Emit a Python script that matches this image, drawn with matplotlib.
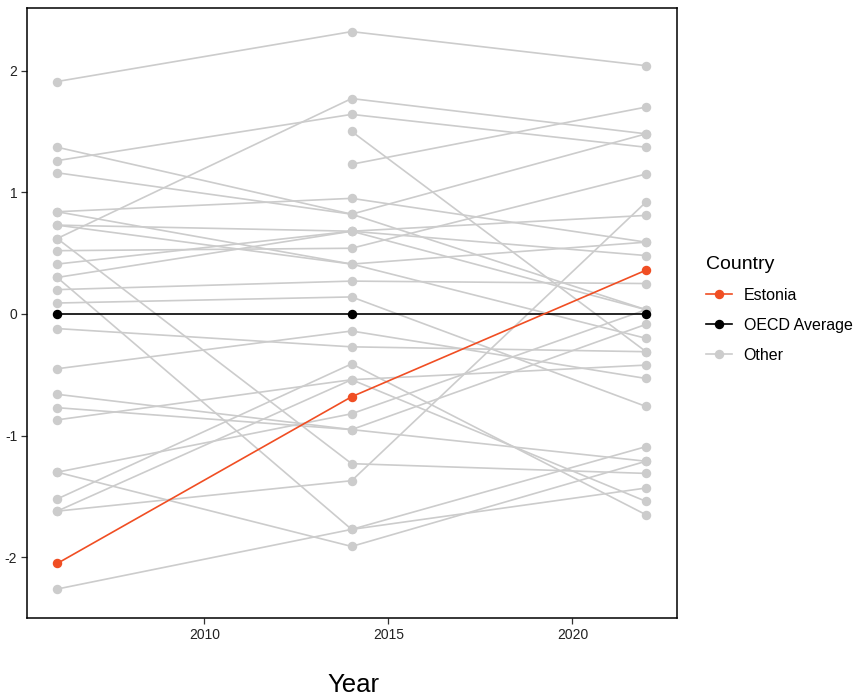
import numpy as np
import matplotlib
matplotlib.use("Agg")
import matplotlib.pyplot as plt
from matplotlib.lines import Line2D

plt.rcParams['font.family'] = ['Liberation Sans', 'DejaVu Sans']

years = [2006, 2014, 2022]

# other countries: value in 2006, 2014, 2022 (nan = no data)
other_2006 = [1.91, 1.37, 1.26, 1.16, 0.84, 0.84, 0.73, 0.73, 0.62, 0.62,
              0.52, 0.41, 0.30, 0.30, 0.20, 0.09, -0.12, -0.45, -0.66, -0.77,
              -0.87, -1.30, -1.30, -1.52, -1.62, -2.26, -1.62, np.nan, np.nan]
other_2014 = [2.32, 0.82, 1.64, 0.82, 0.95, 0.41, 0.68, 0.41, 1.77, -1.23,
              0.54, 0.68, 0.68, -1.77, 0.27, 0.14, -0.27, -0.14, -0.95, -0.95,
              -0.54, -0.82, -1.91, -0.41, -1.37, -1.77, -0.54, 1.50, 1.23]
other_2022 = [2.04, 0.035, 1.37, 1.48, 0.59, 0.59, 0.81, -0.20, 1.48, -1.31,
              1.15, 0.48, 0.035, -1.09, 0.25, -0.76, -0.31, -0.53, -0.085, -1.21,
              -1.54, 0.035, -1.21, -1.65, 0.92, -1.43, -0.42, -0.31, 1.70]

estonia = [-2.05, -0.68, 0.36]
oecd = [0.0, 0.0, 0.0]

c_est = '#F04E23'
c_oecd = 'black'
c_other = '#CCCCCC'

fig = plt.figure(figsize=(8.59, 6.98), dpi=100)
ax = fig.add_axes([27/859, 1 - 618/698, (677 - 27)/859, (618 - 8)/698])

for a, b, c in zip(other_2006, other_2014, other_2022):
    ax.plot(years, [a, b, c], color=c_other, lw=1.2, marker='o', ms=5.8,
            zorder=1)
ax.plot(years, oecd, color=c_oecd, lw=1.2, marker='o', ms=5.8, zorder=3)
ax.plot(years, estonia, color=c_est, lw=1.2, marker='o', ms=5.8, zorder=4)

ax.set_xlim(2005.18, 2022.84)
ax.set_ylim(-2.498, 2.514)
ax.set_xticks([2010, 2015, 2020])
ax.set_yticks([-2, -1, 0, 1, 2])
ax.set_yticklabels(['-2', '-1', '0', '1', '2'])
ax.tick_params(labelsize=10, length=4, width=0.9, color='#333333',
               labelcolor='#222222', pad=3)
for s in ax.spines.values():
    s.set_linewidth(1.1)
    s.set_color('black')

fig.text(353/859, 1 - 685/698, 'Year', ha='center', va='center', fontsize=18.5)

handles = [Line2D([], [], color=c_est, lw=1.2, marker='o', ms=5.8),
           Line2D([], [], color=c_oecd, lw=1.2, marker='o', ms=5.8),
           Line2D([], [], color=c_other, lw=1.2, marker='o', ms=5.8)]
leg = fig.legend(handles, ['Estonia', 'OECD Average', 'Other'],
                 title='Country', loc='upper left',
                 bbox_to_anchor=(706/859, 1 - 256/698), frameon=False,
                 fontsize=11.5, title_fontsize=14, handlelength=1.6,
                 handletextpad=0.75, labelspacing=0.93, borderaxespad=0,
                 borderpad=0)
leg._legend_box.align = 'left'

fig.savefig('out.png', dpi=100)
